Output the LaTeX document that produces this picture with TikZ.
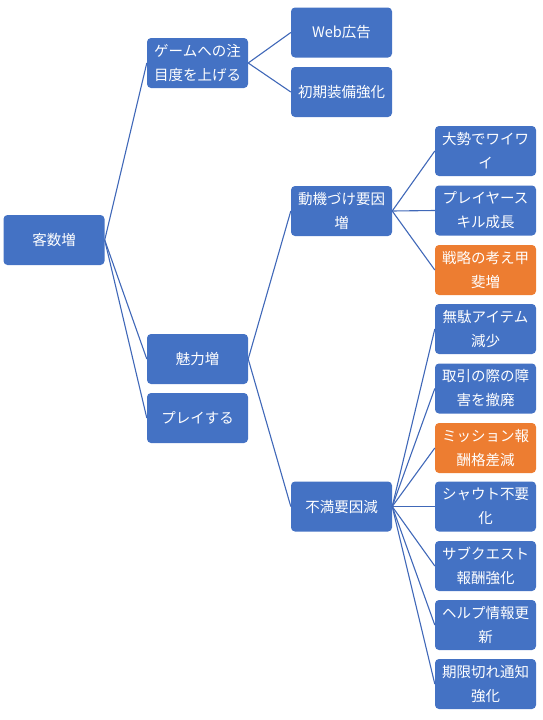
\documentclass[tikz,border=0pt]{standalone}
\usepackage{fontspec}
\newfontfamily\jpfont{Noto Sans CJK JP}
\definecolor{boxblue}{HTML}{4472C4}
\definecolor{boxorange}{HTML}{ED7D31}
\definecolor{linkblue}{HTML}{4068B8}

\begin{document}
\begin{tikzpicture}[x=1pt,y=-1pt,
	box/.style={shape=rectangle,rounded corners=4pt,fill=boxblue,text=white,
		minimum width=101pt,minimum height=50pt,inner sep=2pt,align=center,
		font=\jpfont\fontsize{14.5}{24}\selectfont},
	hot/.style={box,fill=boxorange},
	link/.style={-,line width=1.1pt,linkblue}]
			\useasboundingbox (0,0) rectangle (543,720);
			\node[box] (root) at (54,240) {客数増};
			
			\node[box] (attn) at (197.5,63) {ゲームへの注\\目度を上げる};
			\node[box] (charm) at (197.5,359) {魅力増};
			\node[box] (play) at (197.5,418) {プレイする};
			
			\node[box] (web) at (341.5,32.5) {Web広告};
			\node[box] (equip) at (341.5,92) {初期装備強化};
			\node[box] (motiv) at (341.5,211) {動機づけ要因\\増};
			\node[box] (dissat) at (341.5,506.5) {不満要因減};
			
			\node[box] (crowd) at (485.5,151) {大勢でワイワ\\イ};
			\node[box] (skill) at (485.5,210.5) {プレイヤース\\キル成長};
			\node[hot] (tactic) at (485.5,270) {戦略の考え甲\\斐増};
			\node[box] (waste) at (485.5,329) {無駄アイテム\\減少};
			\node[box] (trade) at (485.5,388.5) {取引の際の障\\害を撤廃};
			\node[hot] (reward) at (485.5,448) {ミッション報\\酬格差減};
			\node[box] (shout) at (485.5,506.5) {シャウト不要\\化};
			\node[box] (subq) at (485.5,566) {サブクエスト\\報酬強化};
			\node[box] (help) at (485.5,625) {ヘルプ情報更\\新};
			\node[box] (expire) at (485.5,684) {期限切れ通知\\強化};
			
			\path [link] (root.east) edge (attn.west);
			\path [link] (root.east) edge (charm.west);
			\path [link] (root.east) edge (play.west);
			\path [link] (attn.east) edge (web.west);
			\path [link] (attn.east) edge (equip.west);
			\path [link] (charm.east) edge (motiv.west);
			\path [link] (charm.east) edge (dissat.west);
			\foreach \c in {crowd,skill,tactic}
				\path [link] (motiv.east) edge (\c.west);
			\foreach \c in {waste,trade,reward,shout,subq,help,expire}
				\path [link] (dissat.east) edge (\c.west);
			\end{tikzpicture}
\end{document}
